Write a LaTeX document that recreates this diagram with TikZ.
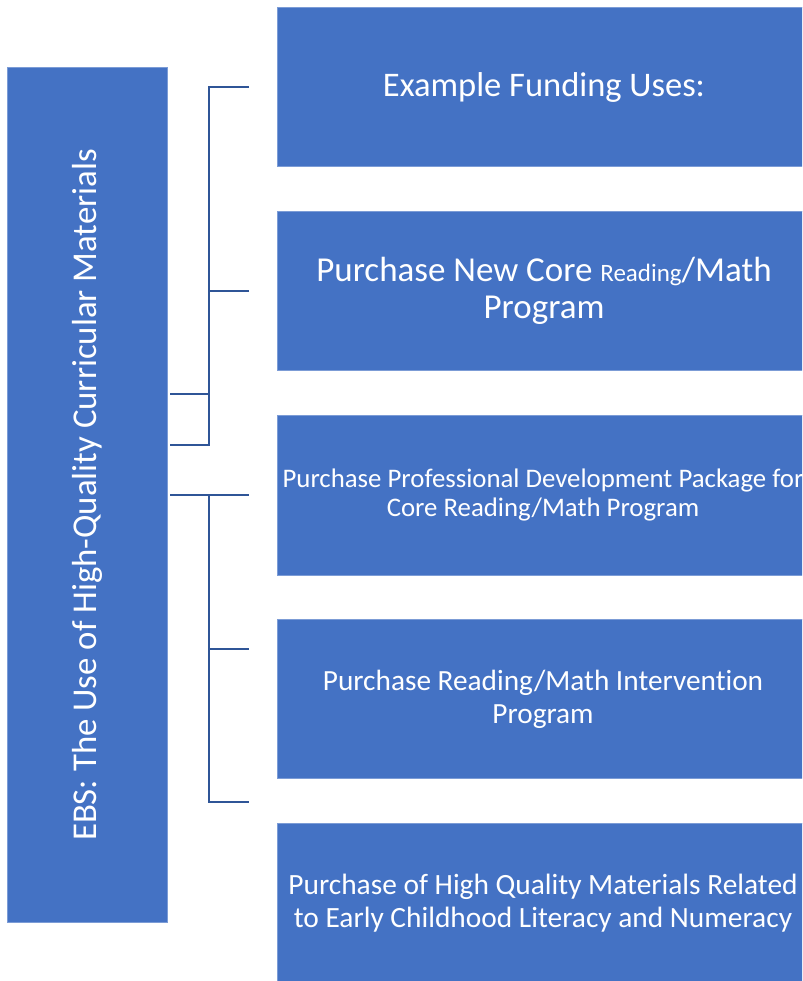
\documentclass[tikz,border=0pt]{standalone}
\usepackage{fontspec}
\setmainfont{Carlito}[Ligatures=NoCommon]
\definecolor{boxblue}{HTML}{4472C4}
\definecolor{lineblue}{HTML}{2F5597}
\begin{document}
\begin{tikzpicture}[x=1pt,y=-1pt,
  bluebox/.style={fill=boxblue,draw=boxblue!70!white,line width=0.6pt,inner sep=0pt},
  boxtext/.style={text=white,align=center,inner sep=0pt},
  conn/.style={draw=lineblue,line width=2pt}]
\useasboundingbox (0,0) rectangle (802,981);
\begin{scope}
\clip (0,0) rectangle (802,981);
% left box
\path[bluebox] (7,67) rectangle (167,922);
\node[boxtext,rotate=90,font=\fontsize{34.8}{40}\selectfont] (ebs) at (87,495) {EBS: The Use of High-Quality Curricular Materials};
% right boxes
\path[bluebox] (277,7) rectangle (812,166);
\path[bluebox] (277,211) rectangle (812,370);
\path[bluebox] (277,415) rectangle (812,575);
\path[bluebox] (277,619) rectangle (812,778);
\path[bluebox] (277,823) rectangle (812,990);
\node[boxtext,font=\fontsize{34.5}{37}\selectfont] (b1) at (544,87) {Example Funding Uses:};
\node[boxtext,font=\fontsize{35}{37}\selectfont] (b2) at (544,291) {Purchase New Core {\fontsize{25}{37}\selectfont Reading}/Math\\Program};
\node[boxtext,font=\fontsize{26.8}{29}\selectfont] (b3) at (543,495) {Purchase Professional Development Package for\\Core Reading/Math Program};
\node[boxtext,font=\fontsize{29.3}{33}\selectfont] (b4) at (543,699) {Purchase Reading/Math Intervention\\Program};
\node[boxtext,font=\fontsize{29.4}{33}\selectfont] (b5) at (543,903) {Purchase of High Quality Materials Related\\to Early Childhood Literacy and Numeracy};
\end{scope}
% connector coordinates
\coordinate (t1) at (249,87);
\coordinate (t2) at (249,291);
\coordinate (v1a) at (209,87);
\coordinate (v1b) at (209,445);
\coordinate (s1) at (170,394);
\coordinate (s1j) at (209,394);
\coordinate (s2) at (170,445);
\coordinate (s3) at (170,495);
\coordinate (j3) at (209,495);
\coordinate (t3) at (249,495);
\coordinate (t4) at (249,649);
\coordinate (j4) at (209,649);
\coordinate (t5) at (249,802);
\coordinate (j5) at (209,802);
\draw[conn] (t1) -- (v1a) -- (v1b) -- (s2);
\draw[conn] (s1) -- (s1j);
\draw[conn] (t2) -- (v1a |- t2);
\draw[conn] (s3) -- (t3);
\draw[conn] (j3) -- (j5) -- (t5);
\draw[conn] (j4) -- (t4);
\end{tikzpicture}
\end{document}
